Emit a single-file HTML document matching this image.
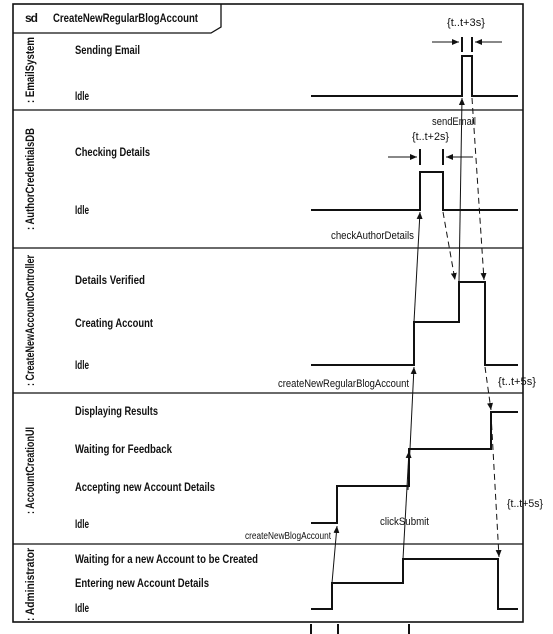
<!DOCTYPE html>
<html><head><meta charset="utf-8"><style>
html,body{margin:0;padding:0;background:#fff;}
svg{display:block;}
text{font-family:"Liberation Sans",sans-serif;fill:#111;}
.s{font-size:12px;font-weight:bold;}
.m{font-size:11px;}
</style></head><body>
<svg width="553" height="634" viewBox="0 0 553 634" xmlns="http://www.w3.org/2000/svg">
<defs>
<marker id="a" markerWidth="8" markerHeight="8" refX="7" refY="4" orient="auto" markerUnits="userSpaceOnUse">
<path d="M0,1 L7,4 L0,7 z" fill="#111"/></marker>
</defs>
<g fill="none" stroke="#111">
<rect x="13" y="4" width="510" height="618" stroke-width="1.6"/>
<path d="M13,33 L211,33 L221,27 L221,4" stroke-width="1.3"/>
<line x1="13" y1="110" x2="523" y2="110" stroke-width="1.3"/>
<line x1="13" y1="248" x2="523" y2="248" stroke-width="1.3"/>
<line x1="13" y1="393" x2="523" y2="393" stroke-width="1.3"/>
<line x1="13" y1="544" x2="523" y2="544" stroke-width="1.3"/>
<g stroke-width="2">
<path d="M311,96 H462 V56 H472 V96 H518"/>
<path d="M311,210 H420 V172 H443 V210 H518"/>
<path d="M311,365 H414 V322 H459 V282 H485 V365 H518"/>
<path d="M311,523 H337 V486 H409 V449 H491 V412 H518"/>
<path d="M311,609 H332 V583 H403 V559 H498 V609 H518"/>
<line x1="462" y1="37" x2="462" y2="52"/><line x1="472" y1="37" x2="472" y2="52"/>
<line x1="420" y1="149" x2="420" y2="165"/><line x1="443" y1="149" x2="443" y2="165"/>
<line x1="311" y1="624" x2="311" y2="634"/><line x1="338" y1="624" x2="338" y2="634"/><line x1="409" y1="624" x2="409" y2="634"/>
</g>
<g stroke-width="1">
<line x1="432" y1="42" x2="459" y2="42" marker-end="url(#a)"/>
<line x1="502" y1="42" x2="475" y2="42" marker-end="url(#a)"/>
<line x1="388" y1="157" x2="417" y2="157" marker-end="url(#a)"/>
<line x1="473" y1="157" x2="446" y2="157" marker-end="url(#a)"/>
<line x1="332" y1="583" x2="337" y2="526" marker-end="url(#a)"/>
<line x1="403" y1="559" x2="409" y2="451" marker-end="url(#a)"/>
<line x1="408" y1="490" x2="414" y2="367" marker-end="url(#a)"/>
<line x1="414" y1="322" x2="420" y2="212" marker-end="url(#a)"/>
<line x1="459" y1="282" x2="462" y2="98" marker-end="url(#a)"/>
<g stroke-dasharray="6,4">
<line x1="443" y1="212" x2="455" y2="280" marker-end="url(#a)"/>
<line x1="472" y1="98" x2="484" y2="280" marker-end="url(#a)"/>
<line x1="485" y1="367" x2="491" y2="410" marker-end="url(#a)"/>
<line x1="491" y1="414" x2="499" y2="557" marker-end="url(#a)"/>
</g></g>
</g>
<text class="s" x="25" y="22" textLength="13">sd</text>
<text class="s" x="53" y="22" textLength="145" lengthAdjust="spacingAndGlyphs">CreateNewRegularBlogAccount</text>
<g class="s">
<text transform="translate(34,103) rotate(-90)" textLength="66" lengthAdjust="spacingAndGlyphs">: EmailSystem</text>
<text transform="translate(34,230) rotate(-90)" textLength="102" lengthAdjust="spacingAndGlyphs">: AuthorCredentialsDB</text>
<text transform="translate(34,386) rotate(-90)" textLength="131" lengthAdjust="spacingAndGlyphs">: CreateNewAccountController</text>
<text transform="translate(34,514) rotate(-90)" textLength="87" lengthAdjust="spacingAndGlyphs">: AccountCreationUI</text>
<text transform="translate(34,621) rotate(-90)" textLength="73" lengthAdjust="spacingAndGlyphs">: Administrator</text>
<text x="75" y="54" textLength="65" lengthAdjust="spacingAndGlyphs">Sending Email</text>
<text x="75" y="100" textLength="14" lengthAdjust="spacingAndGlyphs">Idle</text>
<text x="75" y="156" textLength="75" lengthAdjust="spacingAndGlyphs">Checking Details</text>
<text x="75" y="214" textLength="14" lengthAdjust="spacingAndGlyphs">Idle</text>
<text x="75" y="284" textLength="70" lengthAdjust="spacingAndGlyphs">Details Verified</text>
<text x="75" y="327" textLength="78" lengthAdjust="spacingAndGlyphs">Creating Account</text>
<text x="75" y="369" textLength="14" lengthAdjust="spacingAndGlyphs">Idle</text>
<text x="75" y="415" textLength="83" lengthAdjust="spacingAndGlyphs">Displaying Results</text>
<text x="75" y="453" textLength="97" lengthAdjust="spacingAndGlyphs">Waiting for Feedback</text>
<text x="75" y="491" textLength="140" lengthAdjust="spacingAndGlyphs">Accepting new Account Details</text>
<text x="75" y="528" textLength="14" lengthAdjust="spacingAndGlyphs">Idle</text>
<text x="75" y="563" textLength="183" lengthAdjust="spacingAndGlyphs">Waiting for a new Account to be Created</text>
<text x="75" y="587" textLength="134" lengthAdjust="spacingAndGlyphs">Entering new Account Details</text>
<text x="75" y="612" textLength="14" lengthAdjust="spacingAndGlyphs">Idle</text>
</g>
<g class="m">
<text x="447" y="26" textLength="38" lengthAdjust="spacingAndGlyphs">{t..t+3s}</text>
<text x="432" y="125" textLength="44" lengthAdjust="spacingAndGlyphs">sendEmail</text>
<text x="412" y="140" textLength="37" lengthAdjust="spacingAndGlyphs">{t..t+2s}</text>
<text x="331" y="239" textLength="83" lengthAdjust="spacingAndGlyphs">checkAuthorDetails</text>
<text x="278" y="387" textLength="131" lengthAdjust="spacingAndGlyphs">createNewRegularBlogAccount</text>
<text x="498" y="385" textLength="38" lengthAdjust="spacingAndGlyphs">{t..t+5s}</text>
<text x="507" y="507" textLength="36" lengthAdjust="spacingAndGlyphs">{t..t+5s}</text>
<text x="380" y="525" textLength="49" lengthAdjust="spacingAndGlyphs">clickSubmit</text>
<text x="245" y="539" textLength="86" lengthAdjust="spacingAndGlyphs" font-size="10">createNewBlogAccount</text>
</g>
</svg>
</body></html>
